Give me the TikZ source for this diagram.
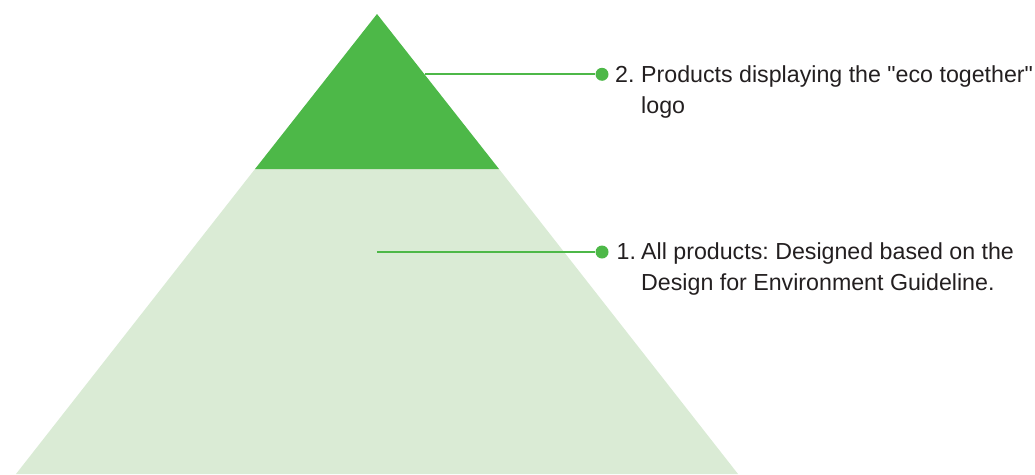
\documentclass[tikz,border=0pt]{standalone}
\usepackage{fontspec}
% plain family: no TeX ligature mapping, so " stays a straight quote
\newfontfamily\labelfont{Liberation Sans}
\usepackage{array}
\frenchspacing
\definecolor{ecogreen}{HTML}{4DB848}
\definecolor{ecolight}{HTML}{DAEBD5}
\definecolor{labeltext}{HTML}{231F20}
\begin{document}
\begin{tikzpicture}[x=1pt,y=-1pt,
  leader/.style={draw=ecogreen,line width=2.2pt},
  bullet/.style={circle,fill=ecogreen,inner sep=0pt,minimum size=13pt},
  label/.style={anchor=base west,inner sep=0pt,text=labeltext,
    font=\labelfont\fontsize{23.2}{31}\selectfont}]
  \useasboundingbox (0,0) rectangle (1035,474);
  % pyramid: apex, tier boundary and base
  \coordinate (apex) at (377,14);
  \coordinate (tierL) at (255,169);
  \coordinate (tierR) at (499,169);
  \coordinate (baseL) at (16,474);
  \coordinate (baseR) at (738,474);
  \fill[ecolight] (tierL) -- (tierR) -- (baseR) -- (baseL) -- cycle;
  \fill[ecogreen] (apex) -- (tierR) -- (tierL) -- cycle;
  % leader start points
  \coordinate (edge2) at (424.5,74.3);
  \coordinate (mid1) at (377,252);
  % bullets
  \node[bullet] (dot2) at (602,74.3) {};
  \node[bullet] (dot1) at (602,252) {};
  \draw[leader] (edge2) -- (dot2);
  \draw[leader] (mid1) -- (dot1);
  % labels
  \node[label] (lab2) at (615,82.5)
    {\begin{tabular}[t]{@{}p{26pt}@{}l@{}}2. & Products displaying the "eco together"\\ & logo\end{tabular}};
  \node[label] (lab1) at (616.5,259)
    {\begin{tabular}[t]{@{}p{24.5pt}@{}l@{}}1. & All products: Designed based on the\\ & Design for Environment Guideline.\end{tabular}};
\end{tikzpicture}
\end{document}
